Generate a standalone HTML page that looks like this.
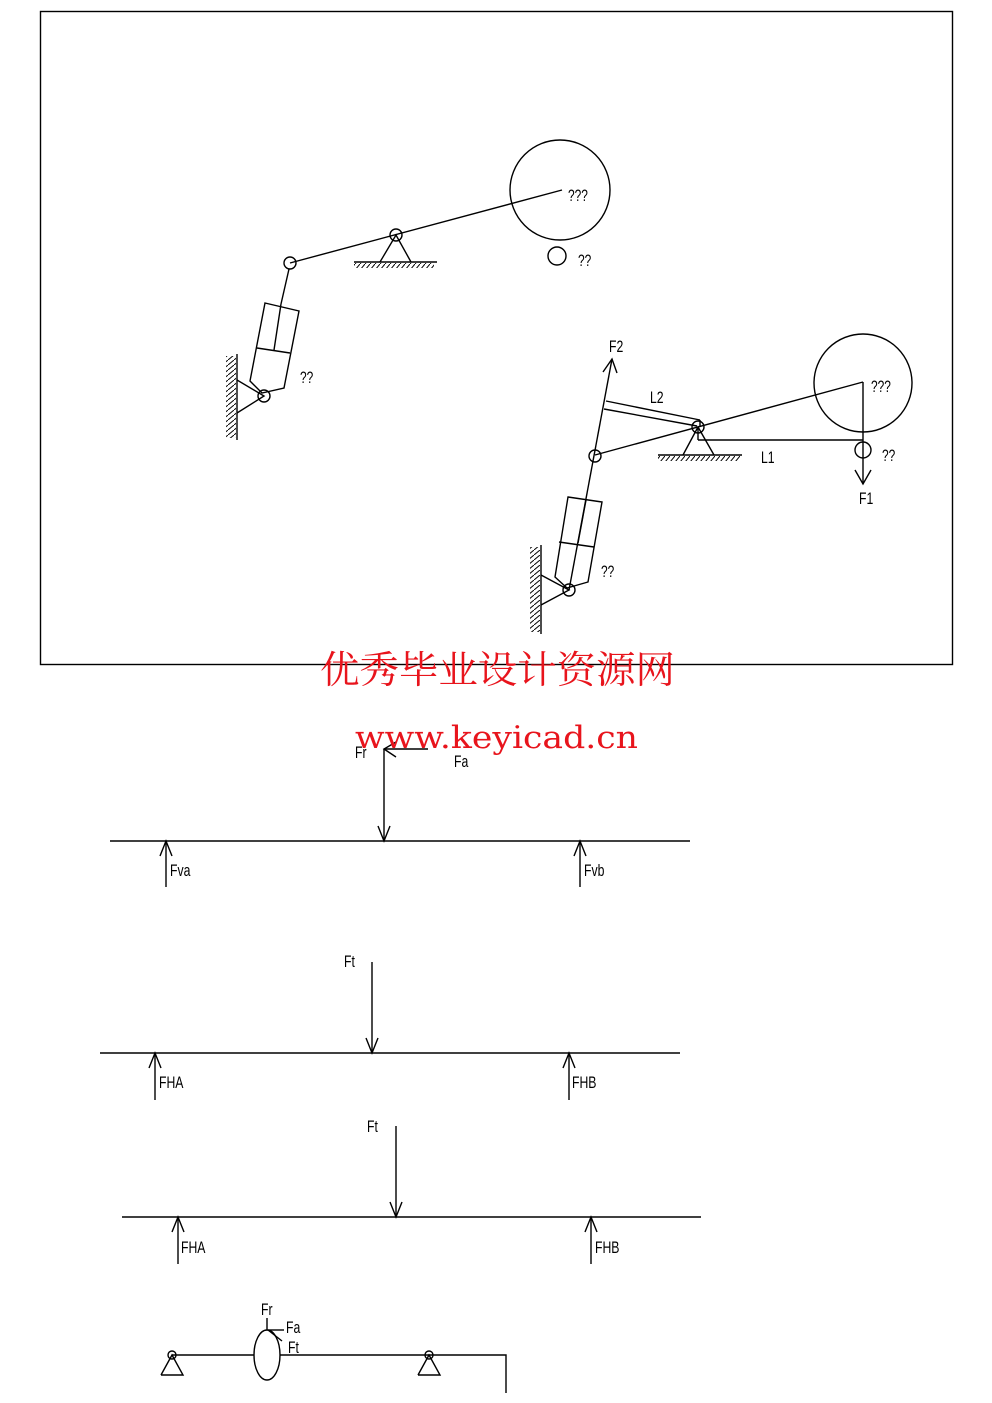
<!DOCTYPE html>
<html><head><meta charset="utf-8"><style>
html,body{margin:0;padding:0;background:#fff;}
svg{display:block;}
text{font-family:"Liberation Sans",sans-serif;fill:#000;}
</style></head><body>
<svg width="992" height="1403" viewBox="0 0 992 1403" xmlns="http://www.w3.org/2000/svg">
<defs>
<pattern id="hd" width="5" height="6" patternUnits="userSpaceOnUse"><line x1="5" y1="0" x2="0" y2="6" stroke="#000" stroke-width="1"/></pattern>
<pattern id="hw" width="6" height="5" patternUnits="userSpaceOnUse"><line x1="6" y1="0" x2="0" y2="5" stroke="#000" stroke-width="1"/></pattern>
</defs>
<g fill="none" stroke="#000" stroke-width="1.4">
<rect x="40.5" y="11.5" width="912" height="653"/>

<circle cx="560" cy="190" r="50"/>
<line x1="290" y1="263" x2="562" y2="190"/>
<circle cx="396" cy="235" r="6"/>
<polyline points="380,262 396,235 411,262"/>
<line x1="354" y1="262" x2="437" y2="262"/>
<rect x="354" y="263" width="80" height="5" fill="url(#hd)" stroke="none"/>
<circle cx="290" cy="263" r="6"/>
<line x1="289" y1="269" x2="281" y2="304"/>
<polygon points="265,303 299,311 284,388 262,393 250,381"/>
<line x1="257" y1="348" x2="290" y2="353"/>
<line x1="281" y1="304" x2="274" y2="350"/>
<circle cx="264" cy="396" r="6"/>
<polyline points="237,380 264,396 237,413"/>
<line x1="237" y1="354" x2="237" y2="440"/>
<rect x="226" y="356" width="10" height="82" fill="url(#hw)" stroke="none"/>
<circle cx="557" cy="256" r="9"/>

<circle cx="863" cy="383" r="49"/>
<line x1="595" y1="455" x2="863" y2="382"/>
<line x1="863" y1="382" x2="863" y2="484"/>
<polyline points="855,470 863,484 871,470"/>
<circle cx="863" cy="450" r="8"/>
<line x1="698" y1="427" x2="698" y2="440"/>
<line x1="698" y1="440" x2="863" y2="440"/>
<circle cx="698" cy="427" r="6"/>
<polyline points="683,455 698,427 714,455"/>
<line x1="658" y1="455" x2="742" y2="455"/>
<rect x="658" y="456" width="82" height="5" fill="url(#hd)" stroke="none"/>
<line x1="606" y1="401" x2="700" y2="420"/>
<line x1="604" y1="409" x2="697" y2="426"/>
<line x1="700" y1="420" x2="700" y2="427"/>
<line x1="569" y1="590" x2="612" y2="359"/>
<polyline points="603,372 612,359 617,373"/>
<circle cx="595" cy="456" r="6"/>
<polygon points="568,497 602,502 588,582 567,588 555,577"/>
<line x1="559" y1="542" x2="594" y2="547"/>
<line x1="586" y1="500" x2="578" y2="543"/>
<circle cx="569" cy="590" r="6"/>
<polyline points="541,575 569,590 541,605"/>
<line x1="541" y1="545" x2="541" y2="634"/>
<rect x="530" y="547" width="10" height="85" fill="url(#hw)" stroke="none"/>

<line x1="110" y1="841" x2="690" y2="841"/>
<line x1="166" y1="887" x2="166" y2="841"/><polyline points="160,856 166,841 172,856"/>
<line x1="580" y1="887" x2="580" y2="841"/><polyline points="574,856 580,841 586,856"/>
<line x1="384" y1="749" x2="384" y2="841"/><polyline points="378,826 384,841 390,826"/>
<line x1="384" y1="749" x2="428" y2="749"/><polyline points="396,742 384,749 396,757"/>

<line x1="100" y1="1053" x2="680" y2="1053"/>
<line x1="155" y1="1100" x2="155" y2="1053"/><polyline points="149,1068 155,1053 161,1068"/>
<line x1="569" y1="1100" x2="569" y2="1053"/><polyline points="563,1068 569,1053 575,1068"/>
<line x1="372" y1="962" x2="372" y2="1053"/><polyline points="366,1038 372,1053 378,1038"/>

<line x1="122" y1="1217" x2="701" y2="1217"/>
<line x1="178" y1="1264" x2="178" y2="1217"/><polyline points="172,1232 178,1217 184,1232"/>
<line x1="591" y1="1264" x2="591" y2="1217"/><polyline points="585,1232 591,1217 597,1232"/>
<line x1="396" y1="1126" x2="396" y2="1217"/><polyline points="390,1202 396,1217 402,1202"/>

<polyline points="172,1355 506,1355 506,1393"/>
<circle cx="172" cy="1355" r="4"/><polyline points="161,1375 172,1355 183,1375 161,1375"/>
<circle cx="429" cy="1355" r="4"/><polyline points="418,1375 429,1355 440,1375 418,1375"/>
<ellipse cx="267" cy="1355" rx="13" ry="25" fill="#fff"/>
<line x1="267" y1="1330" x2="267" y2="1318"/>
<line x1="268" y1="1330" x2="284" y2="1330"/>
<line x1="268" y1="1330" x2="282" y2="1341"/>
</g>

<g font-size="17">
<text x="568" y="201" transform="translate(568,0) scale(0.7,1) translate(-568,0)">???</text>
<text x="578" y="266" transform="translate(578,0) scale(0.7,1) translate(-578,0)">??</text>
<text x="300" y="383" transform="translate(300,0) scale(0.7,1) translate(-300,0)">??</text>
<text x="609" y="352" transform="translate(609,0) scale(0.72,1) translate(-609,0)">F2</text>
<text x="650" y="403" transform="translate(650,0) scale(0.72,1) translate(-650,0)">L2</text>
<text x="761" y="463" transform="translate(761,0) scale(0.72,1) translate(-761,0)">L1</text>
<text x="871" y="392" transform="translate(871,0) scale(0.7,1) translate(-871,0)">???</text>
<text x="882" y="461" transform="translate(882,0) scale(0.7,1) translate(-882,0)">??</text>
<text x="859" y="504" transform="translate(859,0) scale(0.72,1) translate(-859,0)">F1</text>
<text x="601" y="577" transform="translate(601,0) scale(0.7,1) translate(-601,0)">??</text>
<text x="355" y="758" transform="translate(355,0) scale(0.72,1) translate(-355,0)">Fr</text>
<text x="454" y="767" transform="translate(454,0) scale(0.72,1) translate(-454,0)">Fa</text>
<text x="170" y="876" transform="translate(170,0) scale(0.72,1) translate(-170,0)">Fva</text>
<text x="584" y="876" transform="translate(584,0) scale(0.72,1) translate(-584,0)">Fvb</text>
<text x="344" y="967" transform="translate(344,0) scale(0.72,1) translate(-344,0)">Ft</text>
<text x="159" y="1088" transform="translate(159,0) scale(0.72,1) translate(-159,0)">FHA</text>
<text x="572" y="1088" transform="translate(572,0) scale(0.72,1) translate(-572,0)">FHB</text>
<text x="367" y="1132" transform="translate(367,0) scale(0.72,1) translate(-367,0)">Ft</text>
<text x="181" y="1253" transform="translate(181,0) scale(0.72,1) translate(-181,0)">FHA</text>
<text x="595" y="1253" transform="translate(595,0) scale(0.72,1) translate(-595,0)">FHB</text>
<text x="261" y="1315" transform="translate(261,0) scale(0.72,1) translate(-261,0)">Fr</text>
<text x="286" y="1333" transform="translate(286,0) scale(0.72,1) translate(-286,0)">Fa</text>
<text x="288" y="1353" transform="translate(288,0) scale(0.72,1) translate(-288,0)">Ft</text>
</g>

<text x="320" y="683" font-size="38" textLength="355" lengthAdjust="spacingAndGlyphs" style="font-family:'Noto Serif CJK SC','Noto Sans CJK SC',serif;fill:#e8141c;">优秀毕业设计资源网</text>
<text x="355" y="748" font-size="31" textLength="283" lengthAdjust="spacingAndGlyphs" style="font-family:'DejaVu Serif','Liberation Serif',serif;fill:#e8141c;">www.keyicad.cn</text>
</svg>
</body></html>
